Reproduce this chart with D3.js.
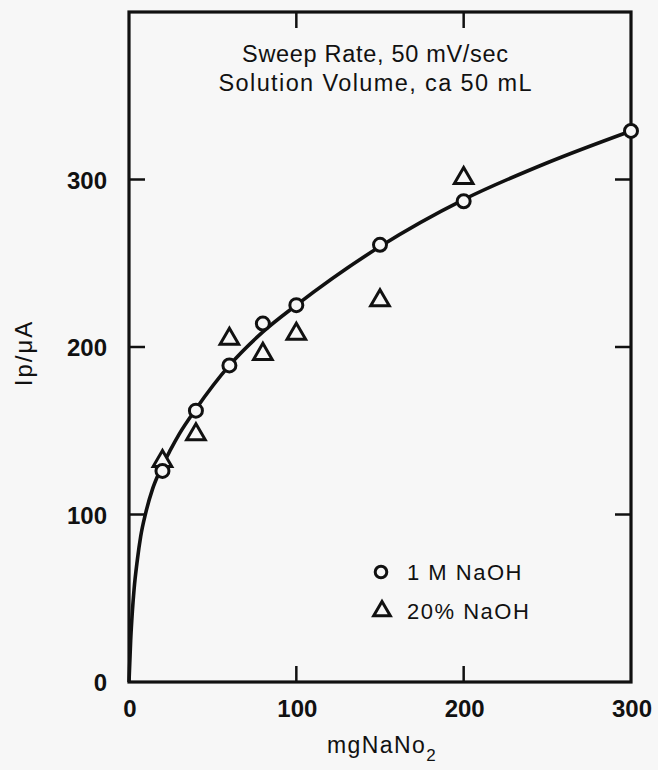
<!DOCTYPE html>
<html><head><meta charset="utf-8">
<script src="https://cdn.jsdelivr.net/npm/d3@7"></script>
<style>
html,body{margin:0;padding:0;background:#f7f7f7;}
svg{display:block;}
text{font-family:"Liberation Sans",Arial,sans-serif;fill:#111;}
</style></head>
<body>
<script>
// Data
const naoh1mX = [20, 40, 60, 80, 100, 150, 200, 300];
const naoh1mY = [126, 162, 189, 214, 225, 261, 287, 329];
const naoh20X = [20, 40, 60, 80, 100, 150, 200];
const naoh20Y = [133, 149, 206, 197, 209, 229, 302];
const curveX = [0, 1, 2, 3, 5, 7, 10, 14, 18, 25, 30, 40, 60, 80, 100, 150, 200, 250, 300];
const curveY = [0, 25, 42, 55, 73, 87, 101, 115, 125, 139, 148, 163, 189, 209, 225, 260, 288, 310, 329];
const xTicks = [0, 100, 200, 300];
const yTicks = [0, 100, 200, 300];
const titleLines = ["Sweep Rate, 50 mV/sec", "Solution Volume, ca 50 mL"];
const legendLabels = ["1 M NaOH", "20% NaOH"];

const W = 658, H = 770;
const svg = d3.select("body").append("svg").attr("width", W).attr("height", H);
svg.append("rect").attr("width", W).attr("height", H).attr("fill", "#f7f7f7");

const x = d3.scaleLinear().domain([0, 300]).range([129, 631]);
const y = d3.scaleLinear().domain([0, 400]).range([682, 12]);

const ink = "#111";
const bg = "#f7f7f7";

// ticks (inward) on all four sides
const tl = 16;
const g = svg.append("g").attr("stroke", ink).attr("stroke-width", 2.5);
[100, 200].forEach(v => {
  g.append("line").attr("x1", x(v)).attr("x2", x(v)).attr("y1", y(0)).attr("y2", y(0) - tl);
  g.append("line").attr("x1", x(v)).attr("x2", x(v)).attr("y1", y(400)).attr("y2", y(400) + tl);
});
[100, 200, 300].forEach(v => {
  g.append("line").attr("x1", x(0)).attr("x2", x(0) + tl).attr("y1", y(v)).attr("y2", y(v));
  g.append("line").attr("x1", x(300)).attr("x2", x(300) - tl).attr("y1", y(v)).attr("y2", y(v));
});

// frame
svg.append("rect")
  .attr("x", x(0)).attr("y", y(400))
  .attr("width", x(300) - x(0)).attr("height", y(0) - y(400))
  .attr("fill", "none").attr("stroke", ink).attr("stroke-width", 3.2);

// tick labels
svg.selectAll(".xl").data(xTicks).enter().append("text")
  .attr("x", d => x(d) + 1).attr("y", 717)
  .attr("text-anchor", "middle").attr("font-size", 24).attr("font-weight", "bold")
  .text(d => d);
svg.selectAll(".yl").data(yTicks).enter().append("text")
  .attr("x", 107).attr("y", d => y(d) + 9)
  .attr("text-anchor", "end").attr("font-size", 24).attr("font-weight", "bold")
  .text(d => d);

// axis titles
const xt = svg.append("text").attr("x", 382).attr("y", 753)
  .attr("text-anchor", "middle").attr("font-size", 23).attr("letter-spacing", 1.4);
xt.append("tspan").text("mgNaNo");
xt.append("tspan").attr("font-size", 17).attr("dy", 8).text("2");

svg.append("text")
  .attr("transform", "translate(32,353) rotate(-90)")
  .attr("text-anchor", "middle").attr("font-size", 24).attr("letter-spacing", 2)
  .text("Ip/\u03BCA");

// annotation
const titleWidths = [266, 313];
svg.selectAll(".tt").data(titleLines).enter().append("text")
  .attr("x", 375).attr("y", (d, i) => 62 + i * 29)
  .attr("text-anchor", "middle").attr("font-size", 23.5)
  .attr("textLength", (d, i) => titleWidths[i]).attr("lengthAdjust", "spacing")
  .text(d => d);

// fitted curve
const curveData = curveX.map((v, i) => [v, curveY[i]]);
svg.append("path")
  .datum(curveData)
  .attr("fill", "none").attr("stroke", ink).attr("stroke-width", 3.6)
  .attr("d", d3.line().x(d => x(d[0])).y(d => y(d[1])).curve(d3.curveMonotoneX));

// markers
const tri = d3.symbol().type(d3.symbolTriangle).size(150);
const d20 = naoh20X.map((v, i) => [v, naoh20Y[i]]);
svg.selectAll(".tri").data(d20).enter().append("path")
  .attr("d", tri)
  .attr("transform", d => `translate(${x(d[0])},${y(d[1]) + 2})`)
  .attr("fill", bg).attr("stroke", ink).attr("stroke-width", 3);

const d1 = naoh1mX.map((v, i) => [v, naoh1mY[i]]);
svg.selectAll(".circ").data(d1).enter().append("circle")
  .attr("cx", d => x(d[0])).attr("cy", d => y(d[1])).attr("r", 6.5)
  .attr("fill", bg).attr("stroke", ink).attr("stroke-width", 3);

// legend
const lg = svg.append("g");
lg.append("circle").attr("cx", 381).attr("cy", 572).attr("r", 5.8)
  .attr("fill", bg).attr("stroke", ink).attr("stroke-width", 3);
lg.append("path").attr("d", d3.symbol().type(d3.symbolTriangle).size(120))
  .attr("transform", "translate(382,611)")
  .attr("fill", bg).attr("stroke", ink).attr("stroke-width", 3);
lg.selectAll("text").data(legendLabels).enter().append("text")
  .attr("x", 407).attr("y", (d, i) => 580 + i * 39)
  .attr("font-size", 22).attr("letter-spacing", 1.5)
  .text(d => d);
</script>
</body></html>
